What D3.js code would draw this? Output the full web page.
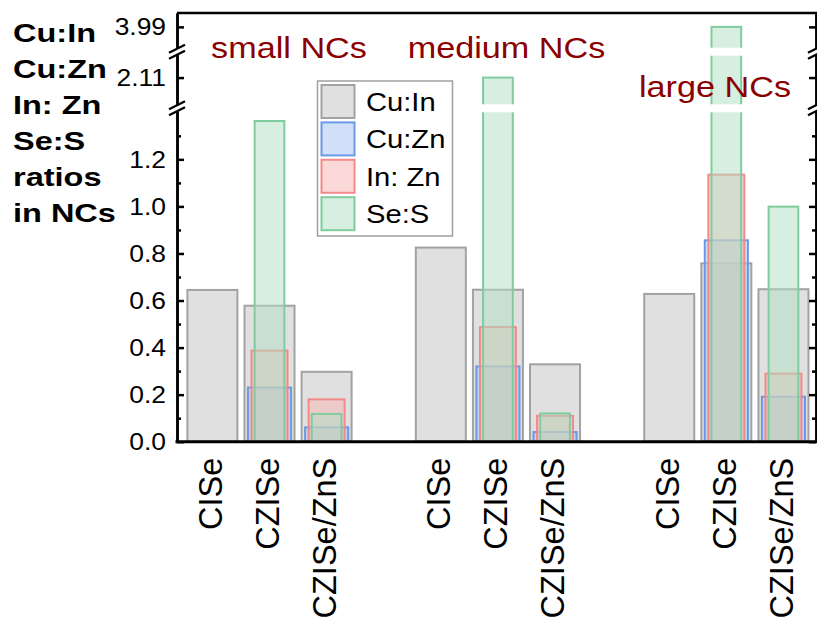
<!DOCTYPE html>
<html lang="en">
<head>
<meta charset="UTF-8">
<title>NC ratios</title>
<script src="https://d3js.org/d3.v7.min.js"></script>
<style>
    body{ margin:0; background:#fff; }
    svg text{ font-family:"Liberation Sans", Arial, sans-serif; }
</style>
</head>
<body>
<svg id="chart" width="817" height="618"></svg>
<script>
    // data
    let groups = ["small NCs", "medium NCs", "large NCs"];
    let samples = ["CISe", "CZISe", "CZISe/ZnS"];
    let slots = [0, 1, 2, 4, 5, 6, 8, 9, 10];   // 3 samples per group, one empty slot between groups
    let cuIn = [0.645, 0.578, 0.297, 0.825, 0.646, 0.329, 0.628, 0.758, 0.648];
    let cuZn = [null, 0.23, 0.061, null, 0.32, 0.041, null, 0.856, 0.191];
    let inZn = [null, 0.387, 0.18, null, 0.487, 0.11, null, 1.135, 0.289];
    let seS = [null, 1.363, 0.118, null, 2.11, 0.12, null, 3.99, 0.999];
    let seriesNames = ["Cu:In", "Cu:Zn", "In: Zn", "Se:S"];
    let yMajor = [0, 0.2, 0.4, 0.6, 0.8, 1.0, 1.2, 2.11, 3.99];
    let yMajorLabels = ["0.0", "0.2", "0.4", "0.6", "0.8", "1.0", "1.2", "2.11", "3.99"];
    let yMinor = [0.1, 0.3, 0.5, 0.7, 0.9, 1.1, 1.3];
    let titleLines = ["Cu:In", "Cu:Zn", "In: Zn", "Se:S", "ratios", "in NCs"];

    let svg = d3.select("#chart");
    let plotL = 177, plotR = 816, plotT = 13, plotB = 441.7;

    let x = d3.scaleLinear().domain([-0.62, 10.57]).range([plotL, plotR]);
    // broken axis: three segments, zero-width in value between them
    let y = d3.scaleLinear()
        .domain([0, 1.4, 2.0, 2.2, 3.9, 4.05])
        .range([plotB, 112.3, 104.3, 55.7, 47.7, plotT]);
    let breaks = [[1.4, 2.0], [2.2, 3.9]];
    let step = x(1) - x(0);

    let series = [
        {name: seriesNames[0], values: cuIn, fill: "#c1c1c1", stroke: "#a2a2a2", w: 0.876},
        {name: seriesNames[1], values: cuZn, fill: "#a5c3f3", stroke: "#6a9ae6", w: 0.755},
        {name: seriesNames[2], values: inZn, fill: "#f7b3b3", stroke: "#f28a8a", w: 0.63},
        {name: seriesNames[3], values: seS, fill: "#addfc1", stroke: "#80cc9e", w: 0.52}
    ];

    // bars, widest first
    series.forEach(function (s) {
        let g = svg.append("g");
        let pts = s.values.map(function (v, i) { return {v: v, slot: slots[i]}; })
            .filter(function (d) { return d.v !== null; });
        g.selectAll("rect")
            .data(pts)
            .enter()
            .append("rect")
            .attr("x", function (d) { return x(d.slot) - s.w * step / 2; })
            .attr("y", function (d) { return y(d.v); })
            .attr("width", s.w * step)
            .attr("height", function (d) { return y(0) - y(d.v); })
            .attr("fill", s.fill)
            .attr("fill-opacity", 0.5)
            .attr("stroke", s.stroke)
            .attr("stroke-width", 2);
        // white gaps where a bar crosses an axis break
        pts.forEach(function (d) {
            breaks.forEach(function (b) {
                if (d.v > b[1]) {
                    g.append("rect")
                        .attr("x", x(d.slot) - s.w * step / 2 - 3)
                        .attr("y", y(b[1]))
                        .attr("width", s.w * step + 6)
                        .attr("height", y(b[0]) - y(b[1]))
                        .attr("fill", "white");
                }
            });
        });
    });

    // stretched text helper
    function stretchText(parent, tx, ty, str, size, sx, anchor) {
        return parent.append("text")
            .attr("transform", "translate(" + tx + "," + ty + ") scale(" + sx + ",1)")
            .attr("text-anchor", anchor)
            .style("font-size", size + "px")
            .text(str);
    }

    // frame
    svg.append("line").attr("x1", plotL).attr("x2", plotR + 1).attr("y1", plotT).attr("y2", plotT)
        .attr("stroke", "black").attr("stroke-width", 2.5);
    svg.append("line").attr("x1", plotL - 1.5).attr("x2", plotR + 1).attr("y1", plotB).attr("y2", plotB)
        .attr("stroke", "black").attr("stroke-width", 3);

    // left axis
    svg.append("g").attr("transform", "translate(" + plotL + ",0)")
        .call(d3.axisLeft(y).tickValues(yMajor).tickSizeInner(-7).tickSizeOuter(0).tickFormat(""));
    svg.append("g").attr("transform", "translate(" + plotL + ",0)")
        .call(d3.axisLeft(y).tickValues(yMinor).tickSizeInner(-4).tickSizeOuter(0).tickFormat(""));
    // right axis
    svg.append("g").attr("transform", "translate(" + plotR + ",0)")
        .call(d3.axisRight(y).tickValues(yMajor).tickSizeInner(-7).tickSizeOuter(0).tickFormat(""));
    svg.append("g").attr("transform", "translate(" + plotR + ",0)")
        .call(d3.axisRight(y).tickValues(yMinor).tickSizeInner(-4).tickSizeOuter(0).tickFormat(""));
    svg.selectAll(".domain").attr("stroke-width", 2.5);
    svg.selectAll(".tick line").attr("stroke-width", 2.5);

    yMajor.forEach(function (v, i) {
        stretchText(svg, plotL - 11, y(v) + 8.5, yMajorLabels[i], 24, 1.1, "end");
    });

    // break marks on both axes
    [plotL, plotR].forEach(function (ax) {
        breaks.forEach(function (b) {
            let c = (y(b[0]) + y(b[1])) / 2;
            svg.append("rect").attr("x", ax - 3).attr("y", c - 3).attr("width", 6).attr("height", 6)
                .attr("fill", "white");
            [-3, 3].forEach(function (o) {
                svg.append("line")
                    .attr("x1", ax - 8).attr("y1", c + o + 4)
                    .attr("x2", ax + 8).attr("y2", c + o - 4)
                    .attr("stroke", "black").attr("stroke-width", 2.2);
            });
        });
    });

    // x labels
    let xAxis = svg.append("g").attr("transform", "translate(0," + plotB + ")")
        .call(d3.axisBottom(x).tickValues(slots).tickSize(0)
            .tickFormat(function (d, i) { return samples[i % 3]; }));
    xAxis.select(".domain").remove();
    xAxis.selectAll("text")
        .attr("transform", "rotate(-90)")
        .attr("text-anchor", "end")
        .attr("x", -16)
        .attr("y", 0)
        .attr("dy", "0.27em")
        .attr("fill", "black")
        .style("font-size", "32.5px")
        .style("font-family", "'Liberation Sans', Arial, sans-serif");

    // legend
    let legend = svg.append("g");
    legend.append("rect").attr("x", 317.5).attr("y", 81).attr("width", 135).attr("height", 155)
        .attr("fill", "white").attr("stroke", "#a0a0a0").attr("stroke-width", 1.5);
    series.forEach(function (s, i) {
        let ly = 85 + i * 37.4;
        legend.append("rect").attr("x", 321.5).attr("y", ly).attr("width", 33).attr("height", 33)
            .attr("fill", s.fill).attr("fill-opacity", 0.5)
            .attr("stroke", s.stroke).attr("stroke-width", 2);
        stretchText(legend, 366, ly + 26, s.name, 26.5, 1.1, "start");
    });

    // group labels
    let groupPos = [[289, 58], [506.5, 58], [715, 97]];
    groups.forEach(function (gname, i) {
        stretchText(svg, groupPos[i][0], groupPos[i][1], gname, 30, 1.14, "middle")
            .attr("fill", "#8b0000");
    });

    // left title
    titleLines.forEach(function (t, i) {
        stretchText(svg, 13, 42 + i * 36, t, 25, 1.3, "start")
            .style("font-weight", "bold");
    });
</script>
</body>
</html>
